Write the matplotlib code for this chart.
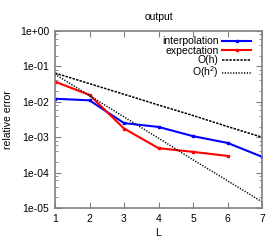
import matplotlib
matplotlib.use("Agg")
import matplotlib.pyplot as plt
from matplotlib.ticker import FuncFormatter, LogLocator, NullFormatter

plt.rcParams['font.family'] = ['Liberation Sans', 'DejaVu Sans']
plt.rcParams['mathtext.fontset'] = 'custom'
plt.rcParams['mathtext.rm'] = 'Liberation Sans'

L = [1, 2, 3, 4, 5, 6, 7]
interpolation = [1.22e-2, 1.1e-2, 2.5e-3, 1.95e-3, 1.07e-3, 6.9e-4, 2.8e-4]
L_exp = [1, 2, 3, 4, 5, 6]
expectation = [3.7e-2, 1.56e-2, 1.76e-3, 4.9e-4, 3.85e-4, 2.96e-4]
oh = [6.5e-2, 3.25e-2, 1.63e-2, 8.1e-3, 4.1e-3, 2.0e-3, 1.0e-3]
oh2 = [6.0e-2, 1.5e-2, 3.75e-3, 9.4e-4, 2.3e-4, 5.9e-5, 1.5e-5]

fig = plt.figure(figsize=(2.8, 2.4), dpi=100)
ax = fig.add_axes([55/280, 1-208/240, (262-55)/280, (208-31)/240])

ax.plot(L, interpolation, color='blue', lw=1.5, marker='s', ms=2.0, label='interpolation')
ax.plot(L_exp, expectation, color='red', lw=1.5, marker='s', ms=2.0, label='expectation')
ax.plot(L, oh, color='black', lw=1.1, ls=(0, (1.6, 0.8)), label='O(h)')
ax.plot(L, oh2, color='black', lw=1.1, ls=(0, (0.8, 1.0)), label='O(h$^\\mathrm{2}$)')

ax.set_yscale('log')
ax.set_xlim(1, 7)
ax.set_ylim(1e-5, 1)
ax.yaxis.set_major_formatter(FuncFormatter(lambda v, p: '%.0e' % v))
ax.yaxis.set_minor_locator(LogLocator(base=10, subs=[2, 4, 6, 8]))
ax.yaxis.set_minor_formatter(NullFormatter())
ax.set_xticks(L)

for s in ax.spines.values():
    s.set_color('#808080')
    s.set_linewidth(1.2)
ax.tick_params(which='both', direction='in', top=True, right=True, color='#808080', labelsize=7.5, pad=4)
ax.tick_params(which='major', length=4)
ax.tick_params(which='minor', length=2)

ax.set_title('output', fontsize=7.5, pad=8)
ax.set_xlabel('L', fontsize=7.5, labelpad=3)
ax.set_ylabel('relative error', fontsize=7.5, labelpad=5)

ax.legend(loc='upper right', fontsize=7.5, frameon=False, markerfirst=False,
          handlelength=2.7, handletextpad=0.4, labelspacing=-0.05,
          borderaxespad=0.1, bbox_to_anchor=(0.97, 1.0))

fig.savefig('out.png', dpi=100)
